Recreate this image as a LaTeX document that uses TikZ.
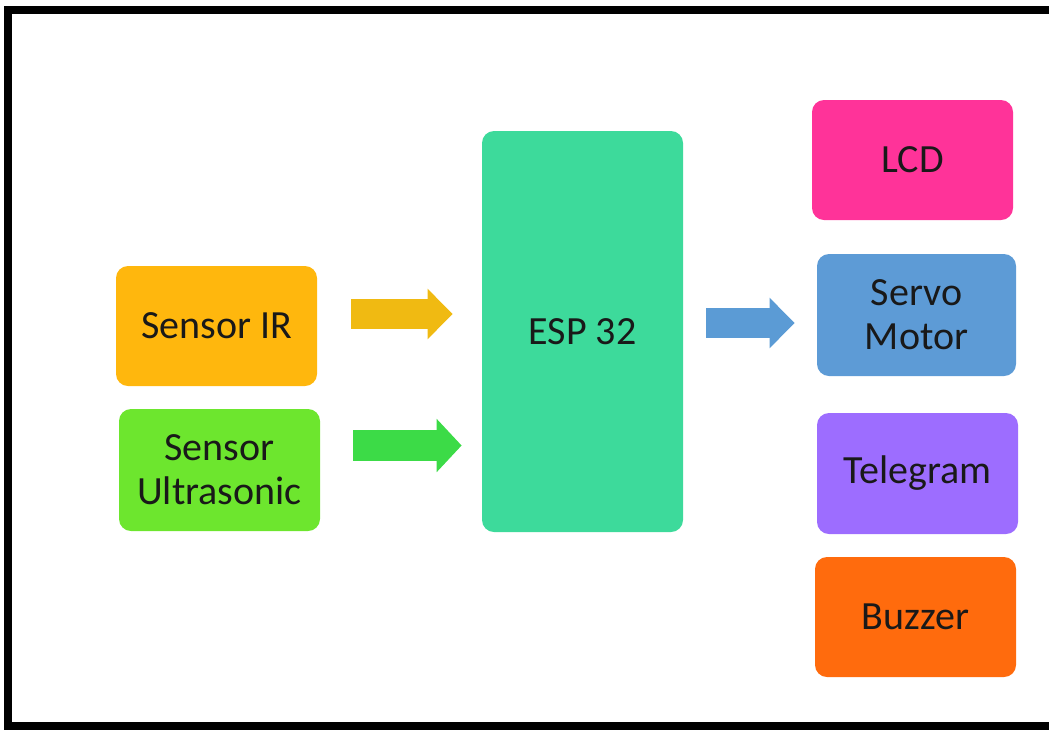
\documentclass[tikz,border=0pt]{standalone}
\usepackage{fontspec}
\setmainfont{Carlito}
\usetikzlibrary{positioning, arrows.meta}

\definecolor{irorange}{HTML}{FFB70D}
\definecolor{uslime}{HTML}{6DE62E}
\definecolor{espgreen}{HTML}{3DDA9B}
\definecolor{lcdpink}{HTML}{FF3399}
\definecolor{servoblue}{HTML}{5D9BD6}
\definecolor{telepurple}{HTML}{9D6DFF}
\definecolor{buzzorange}{HTML}{FF6B0D}
\definecolor{arrowyellow}{HTML}{F0BA12}
\definecolor{arrowgreen}{HTML}{3CDB47}
\definecolor{arrowblue}{HTML}{5B9BD5}

\begin{document}
\begin{tikzpicture}[x=0.5pt, y=-0.5pt,
    block/.style={rectangle, rounded corners=6pt, minimum width=100.5pt, minimum height=60pt,
        align=center, text=black!90, inner sep=0pt, font=\fontsize{20}{22}\selectfont},
    fatarrow/.style={line width=15pt, -{Triangle[length=12.5pt, width=24.5pt]}}]

\useasboundingbox (0,0) rectangle (1049,729);
% frame
\draw[line width=4pt] (1060,9.5) -- (8,9.5) -- (8,725.5) -- (1060,725.5);

% inputs
\node[block, fill=irorange] (ir) at (216.5,326) {Sensor IR};
\node[block, fill=uslime, minimum height=61pt] (us) at (219.5,470) {Sensor\\Ultrasonic};

% controller
\node[block, fill=espgreen, minimum height=200.5pt] (esp) at (582.5,331.5) {ESP 32};

% outputs
\node[block, fill=lcdpink] (lcd) at (912.5,160) {LCD};
\node[block, fill=servoblue, minimum width=99.5pt, minimum height=61pt] (servo) at (916.5,315) {Servo\\Motor};
\node[block, fill=telepurple, minimum height=60.5pt] (tele) at (917.5,473.5) {Telegram};
\node[block, fill=buzzorange] (buzz) at (915.5,617) {Buzzer};

% arrows
\draw[fatarrow, arrowyellow] ([shift={(34,-12)}]ir.east) -- ([shift={(-29,-17.5)}]esp.west);
\draw[fatarrow, arrowgreen, line width=15.5pt, -{Triangle[length=12.5pt, width=26pt]}]
    ([shift={(33,-24.5)}]us.east) -- ([shift={(-20,114)}]esp.west);
\draw[fatarrow, arrowblue] ([shift={(23,-8.5)}]esp.east) -- ([shift={(-22,8)}]servo.west);
\end{tikzpicture}
\end{document}
